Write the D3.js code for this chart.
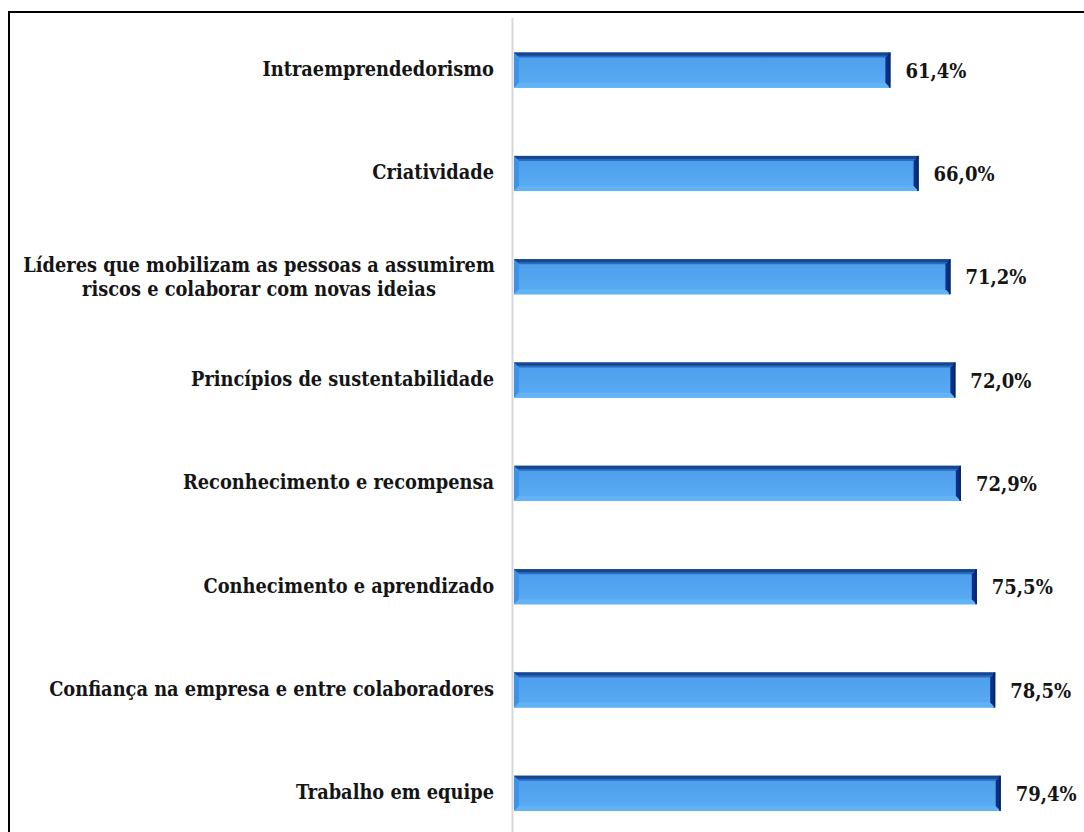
<!DOCTYPE html>
<html>
<head>
<meta charset="utf-8">
<script src="https://cdn.jsdelivr.net/npm/d3@7"></script>
<style>
  html, body { margin: 0; padding: 0; background: #fff; }
  svg { display: block; }
  text { font-family: "DejaVu Serif Condensed", "DejaVu Serif", serif; font-weight: bold; fill: #151515; }
</style>
</head>
<body>
<svg id="chart" width="1084" height="832"></svg>
<script>
// Fatores de cultura de inovação (% de respostas)
const categories = [
  "Intraemprendedorismo",
  "Criatividade",
  "Líderes que mobilizam as pessoas a assumirem|riscos e colaborar com novas ideias",
  "Princípios de sustentabilidade",
  "Reconhecimento e recompensa",
  "Conhecimento e aprendizado",
  "Confiança na empresa e entre colaboradores",
  "Trabalho em equipe"
];
const values = [61.4, 66.0, 71.2, 72.0, 72.9, 75.5, 78.5, 79.4];
const valueLabels = ["61,4%", "66,0%", "71,2%", "72,0%", "72,9%", "75,5%", "78,5%", "79,4%"];

const svg = d3.select("#chart");
const W = 1084, H = 832;

// outer frame (runs past the right and bottom edges)
svg.append("rect")
  .attr("x", 9).attr("y", 12)
  .attr("width", W).attr("height", H)
  .attr("fill", "none").attr("stroke", "#000").attr("stroke-width", 2);

const x = d3.scaleLinear().domain([0, 100]).range([514, 1127]);
const y = d3.scaleBand().domain(categories).range([18.5, 845]).paddingInner(0.66).paddingOuter(0.33);

// category axis line
svg.append("line")
  .attr("x1", x(0) - 1.5).attr("x2", x(0) - 1.5)
  .attr("y1", 18).attr("y2", H)
  .attr("stroke", "#d4d8dc").attr("stroke-width", 2);

const defs = svg.append("defs");
const grad = defs.append("linearGradient").attr("id", "barFill")
  .attr("x1", 0).attr("y1", 0).attr("x2", 0).attr("y2", 1);
grad.append("stop").attr("offset", "0%").attr("stop-color", "#4c9dec");
grad.append("stop").attr("offset", "100%").attr("stop-color", "#5aacf3");

const bh = y.bandwidth();
const bars = svg.append("g").selectAll("g.bar")
  .data(categories.map((c, i) => ({ c, v: values[i], label: valueLabels[i] })))
  .join("g").attr("class", "bar");

bars.each(function (d) {
  const g = d3.select(this);
  const x0 = x(0), x1 = x(d.v), y0 = y(d.c), y1 = y0 + bh;
  const b = 5; // bevel depth
  // body
  g.append("rect").attr("x", x0).attr("y", y0).attr("width", x1 - x0).attr("height", bh)
    .attr("fill", "url(#barFill)");
  // top edge
  g.append("path")
    .attr("d", `M${x0},${y0}L${x1},${y0}L${x1 - b},${y0 + b}L${x0 + b},${y0 + b}Z`)
    .attr("fill", "#2a6cc0");
  g.append("rect").attr("x", x0).attr("y", y0).attr("width", x1 - x0).attr("height", 3)
    .attr("fill", "#17468f");
  // left bevel
  g.append("path")
    .attr("d", `M${x0},${y0}L${x0 + b},${y0 + b}L${x0 + b},${y1 - b}L${x0},${y1}Z`)
    .attr("fill", "#3f93e6");
  // bottom bevel
  g.append("path")
    .attr("d", `M${x0},${y1}L${x0 + b},${y1 - b}L${x1 - b},${y1 - b}L${x1},${y1}Z`)
    .attr("fill", "#62b3f6");
  // right end cap
  g.append("path")
    .attr("d", `M${x1},${y0}L${x1},${y1}L${x1 - b},${y1 - b}L${x1 - b},${y0 + b}Z`)
    .attr("fill", "#0c2f86");
  g.append("rect").attr("x", x1 - 1.5).attr("y", y0).attr("width", 1.5).attr("height", bh)
    .attr("fill", "#0a2468");

  // value label
  g.append("text")
    .attr("x", x1 + 15).attr("y", y0 + bh / 2 + 7.5)
    .attr("font-size", 20)
    .text(d.label);

  // category label
  const lines = d.c.split("|");
  const t = g.append("text").attr("font-size", 19.8);
  if (lines.length === 1) {
    t.attr("x", 494).attr("y", y0 + bh / 2 + 6)
      .attr("text-anchor", "end").text(lines[0]);
  } else {
    t.attr("text-anchor", "middle");
    lines.forEach((ln, i) => {
      t.append("tspan").attr("x", 259)
        .attr("y", y0 + bh / 2 + 7.5 + (i - (lines.length - 1) / 2) * 24)
        .text(ln);
    });
  }
});
</script>
</body>
</html>
